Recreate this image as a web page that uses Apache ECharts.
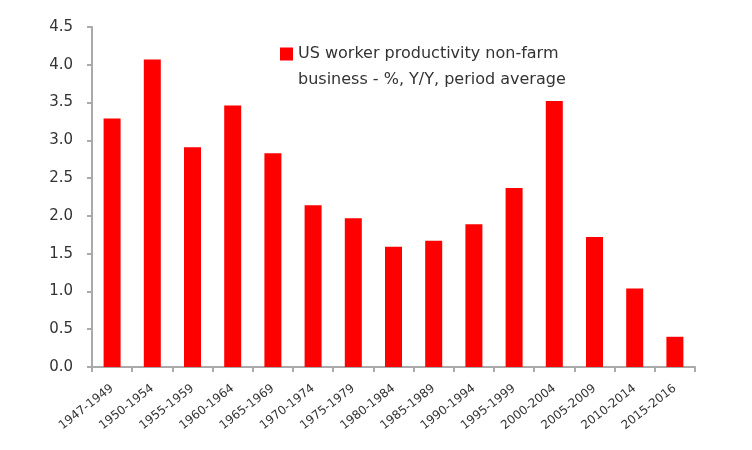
<!DOCTYPE html>
<html>
<head>
    <meta charset="utf-8">
    <title>US worker productivity</title>
    <script src="https://cdn.jsdelivr.net/npm/echarts@6/dist/echarts.min.js"></script>
    <style>
        html, body {margin: 0; padding: 0; background: #fff;}
        #main {width: 752px; height: 450px;}
    </style>
</head>
<body>
<div id="main"></div>
<script type="text/javascript">
    // periods on the x axis
    var periods = ['1947-1949', '1950-1954', '1955-1959', '1960-1964', '1965-1969',
        '1970-1974', '1975-1979', '1980-1984', '1985-1989', '1990-1994',
        '1995-1999', '2000-2004', '2005-2009', '2010-2014', '2015-2016'];
    // % Y/Y, period average
    var productivity = [3.29, 4.07, 2.91, 3.46, 2.83, 2.14, 1.97, 1.59, 1.67, 1.89,
        2.37, 3.52, 1.72, 1.04, 0.40];
    var seriesName = 'US worker productivity non-farm\nbusiness - %, Y/Y, period average';

    var font = '"DejaVu Sans", sans-serif';
    var myChart = echarts.init(document.getElementById('main'));

    var option = {
        animation: false,
        grid: {left: 92, right: 57, top: 27, bottom: 83},
        legend: {
            left: 280,
            top: 15,
            padding: 0,
            itemWidth: 13,
            itemHeight: 13,
            itemGap: 0,
            icon: 'rect',
            data: [seriesName],
            // leading blank line so the marker sits beside the first line
            formatter: function (name) {
                return '\n' + name;
            },
            textStyle: {
                fontFamily: font,
                fontSize: 16,
                color: '#333',
                lineHeight: 26
            }
        },
        xAxis: {
            type: 'category',
            data: periods,
            axisLine: {lineStyle: {color: '#aaa', width: 2}},
            axisTick: {show: true, length: 5, lineStyle: {color: '#aaa', width: 2}},
            axisLabel: {
                interval: 0,
                rotate: 38,
                color: '#333',
                fontFamily: font,
                fontSize: 12,
                margin: 20
            }
        },
        yAxis: {
            type: 'value',
            min: 0,
            max: 4.5,
            interval: 0.5,
            splitLine: {show: false},
            axisLine: {show: true, lineStyle: {color: '#aaa', width: 2}},
            axisTick: {show: true, length: 5, lineStyle: {color: '#aaa', width: 2}},
            axisLabel: {
                color: '#333',
                fontFamily: font,
                fontSize: 15,
                margin: 19,
                formatter: function (v) {
                    return v.toFixed(1);
                }
            }
        },
        series: [{
            name: seriesName,
            type: 'bar',
            barWidth: 17,
            itemStyle: {color: '#ff0000'},
            data: productivity
        }]
    };

    myChart.setOption(option);
</script>
</body>
</html>
